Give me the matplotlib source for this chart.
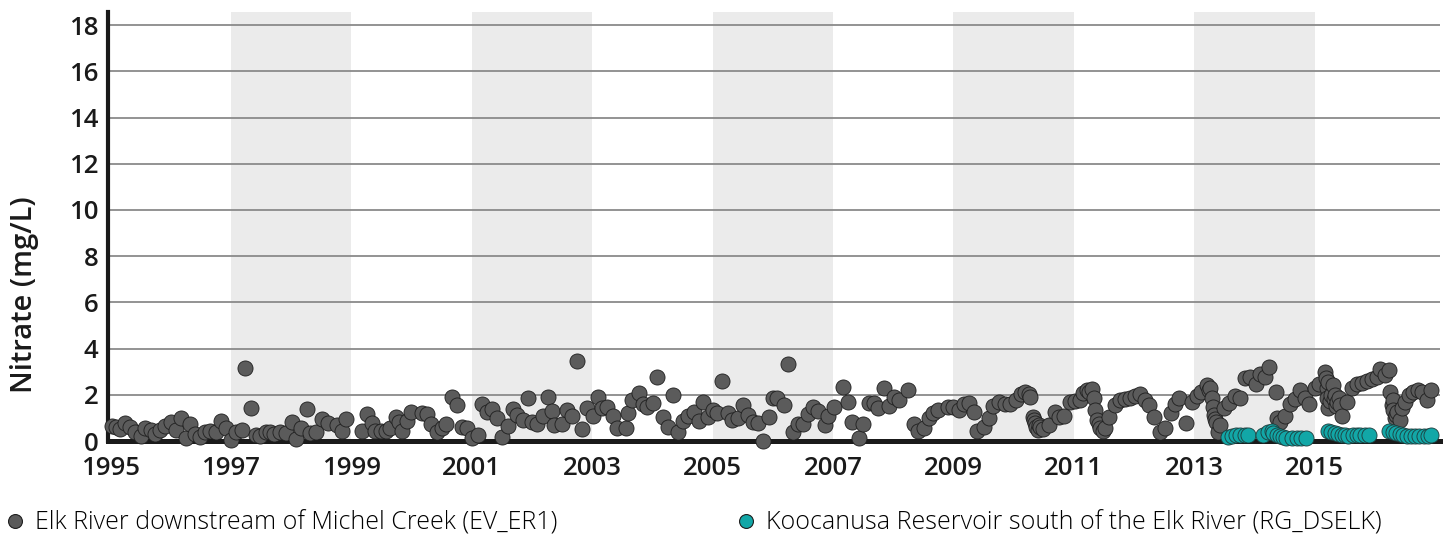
import matplotlib
matplotlib.use("Agg")
import matplotlib.pyplot as plt
from matplotlib.lines import Line2D

# Elk River downstream of Michel Creek (EV_ER1): sample date (decimal year), nitrate (mg/L)
ev_er1_year = [
    1995.02, 1995.09, 1995.16, 1995.24, 1995.32, 1995.41, 1995.50, 1995.57, 1995.67, 1995.74,
    1995.82, 1995.90, 1996.00, 1996.09, 1996.17, 1996.25, 1996.32, 1996.40, 1996.49, 1996.57,
    1996.65, 1996.75, 1996.83, 1996.92, 1997.01, 1997.08, 1997.18, 1997.24, 1997.34, 1997.42,
    1997.49, 1997.58, 1997.65, 1997.72, 1997.81, 1997.91, 1998.01, 1998.09, 1998.16, 1998.26,
    1998.32, 1998.42, 1998.52, 1998.62, 1998.76, 1998.84, 1998.91, 1999.17, 1999.26, 1999.34,
    1999.40, 1999.49, 1999.57, 1999.65, 1999.74, 1999.79, 1999.84, 1999.92, 2000.00, 2000.17,
    2000.26, 2000.33, 2000.43, 2000.50, 2000.58, 2000.68, 2000.76, 2000.84, 2000.93, 2001.00,
    2001.10, 2001.17, 2001.25, 2001.33, 2001.42, 2001.51, 2001.60, 2001.68, 2001.75, 2001.85,
    2001.93, 2002.00, 2002.09, 2002.19, 2002.26, 2002.33, 2002.37, 2002.50, 2002.59, 2002.67,
    2002.75, 2002.84, 2002.92, 2003.02, 2003.09, 2003.17, 2003.25, 2003.35, 2003.42, 2003.56,
    2003.59, 2003.67, 2003.78, 2003.85, 2003.92, 2004.01, 2004.08, 2004.17, 2004.26, 2004.34,
    2004.42, 2004.51, 2004.60, 2004.69, 2004.77, 2004.84, 2004.93, 2005.01, 2005.08, 2005.16,
    2005.26, 2005.33, 2005.43, 2005.51, 2005.59, 2005.67, 2005.76, 2005.84, 2005.94, 2006.00,
    2006.07, 2006.19, 2006.26, 2006.34, 2006.42, 2006.51, 2006.58, 2006.67, 2006.76, 2006.86,
    2006.92, 2007.01, 2007.17, 2007.25, 2007.32, 2007.43, 2007.50, 2007.60, 2007.69, 2007.75,
    2007.85, 2007.93, 2008.01, 2008.10, 2008.25, 2008.35, 2008.42, 2008.51, 2008.59, 2008.67,
    2008.75, 2008.91, 2009.00, 2009.09, 2009.18, 2009.26, 2009.35, 2009.40, 2009.51, 2009.60,
    2009.66, 2009.76, 2009.86, 2009.94, 2010.04, 2010.12, 2010.19, 2010.25, 2010.28, 2010.32,
    2010.34, 2010.36, 2010.38, 2010.40, 2010.42, 2010.44, 2010.49, 2010.59, 2010.68, 2010.76,
    2010.84, 2010.94, 2011.02, 2011.10, 2011.16, 2011.22, 2011.26, 2011.30, 2011.34, 2011.35,
    2011.39, 2011.42, 2011.44, 2011.49, 2011.52, 2011.59, 2011.68, 2011.77, 2011.85, 2011.93,
    2012.02, 2012.10, 2012.18, 2012.25, 2012.33, 2012.43, 2012.51, 2012.61, 2012.68, 2012.75,
    2012.86, 2012.96, 2013.04, 2013.12, 2013.21, 2013.25, 2013.27, 2013.29, 2013.31, 2013.33,
    2013.35, 2013.37, 2013.39, 2013.43, 2013.50, 2013.58, 2013.68, 2013.76, 2013.84, 2013.93,
    2014.03, 2014.10, 2014.18, 2014.25, 2014.36, 2014.38, 2014.43, 2014.51, 2014.59, 2014.67,
    2014.76, 2014.84, 2014.91, 2015.01, 2015.08, 2015.17, 2015.19, 2015.20, 2015.21, 2015.22,
    2015.23, 2015.25, 2015.27, 2015.30, 2015.32, 2015.34, 2015.35, 2015.37, 2015.40, 2015.42,
    2015.45, 2015.53, 2015.62, 2015.70, 2015.78, 2015.87, 2015.95, 2016.03, 2016.09, 2016.17,
    2016.24, 2016.25, 2016.28, 2016.30, 2016.31, 2016.33, 2016.35, 2016.37, 2016.42, 2016.45,
    2016.50, 2016.56, 2016.64, 2016.72, 2016.79, 2016.87, 2016.93,
]
ev_er1_nitrate = [
    0.66, 0.62, 0.52, 0.77, 0.62, 0.38, 0.23, 0.55, 0.48, 0.29,
    0.48, 0.66, 0.81, 0.48, 1.01, 0.12, 0.75, 0.29, 0.19, 0.38,
    0.43, 0.38, 0.87, 0.55, 0.04, 0.38, 0.48, 3.17, 1.44, 0.26,
    0.23, 0.38, 0.40, 0.29, 0.38, 0.33, 0.81, 0.09, 0.55, 1.37,
    0.33, 0.38, 0.95, 0.77, 0.69, 0.43, 0.95, 0.43, 1.15, 0.77,
    0.43, 0.43, 0.43, 0.58, 1.05, 0.81, 0.43, 0.87, 1.24, 1.20,
    1.15, 0.72, 0.38, 0.55, 0.72, 1.92, 1.56, 0.62, 0.55, 0.12,
    0.26, 1.59, 1.27, 1.39, 0.98, 0.19, 0.66, 1.39, 1.13, 0.91,
    1.85, 0.84, 0.72, 1.10, 1.92, 1.30, 0.69, 0.72, 1.34, 1.10,
    3.46, 0.52, 1.44, 1.10, 1.89, 1.44, 1.49, 1.10, 0.58, 0.58,
    1.20, 1.77, 2.06, 1.59, 1.49, 1.63, 2.76, 1.05, 0.62, 1.99,
    0.38, 0.87, 1.10, 1.27, 0.87, 1.70, 1.05, 1.34, 1.20, 2.60,
    1.20, 0.91, 1.01, 1.56, 1.13, 0.84, 0.77, 0.00, 1.05, 1.85,
    1.85, 1.56, 3.32, 0.38, 0.72, 0.72, 1.15, 1.49, 1.30, 0.69,
    1.10, 1.47, 2.32, 1.70, 0.81, 0.14, 0.72, 1.63, 1.63, 1.44,
    2.28, 1.53, 1.92, 1.77, 2.21, 0.72, 0.43, 0.58, 1.01, 1.20,
    1.34, 1.49, 1.49, 1.34, 1.59, 1.63, 1.24, 0.43, 0.62, 1.01,
    1.53, 1.70, 1.62, 1.59, 1.77, 2.02, 2.13, 2.02, 1.92, 1.05,
    0.90, 0.77, 0.62, 0.48, 0.70, 0.62, 0.52, 0.69, 1.27, 1.05,
    1.10, 1.70, 1.73, 1.77, 2.06, 2.21, 2.10, 2.25, 1.87, 1.34,
    0.91, 0.75, 0.58, 0.43, 0.55, 1.05, 1.56, 1.77, 1.82, 1.87,
    1.96, 2.02, 1.77, 1.56, 1.05, 0.38, 0.58, 1.20, 1.59, 1.85,
    0.77, 1.70, 1.96, 2.13, 2.42, 2.21, 2.30, 1.85, 1.49, 1.13,
    0.95, 0.84, 0.38, 0.69, 1.41, 1.63, 1.96, 1.87, 2.71, 2.78,
    2.45, 2.89, 2.78, 3.22, 2.13, 0.98, 0.84, 1.10, 1.59, 1.82,
    2.21, 1.87, 1.59, 2.31, 2.45, 3.00, 2.71, 2.28, 1.85, 2.55,
    1.41, 1.75, 2.00, 2.42, 1.80, 1.99, 1.50, 1.70, 1.85, 1.56,
    1.10, 1.70, 2.28, 2.45, 2.49, 2.60, 2.68, 2.78, 3.12, 2.86,
    3.07, 2.13, 1.55, 1.77, 1.34, 1.00, 1.13, 1.25, 0.91, 1.41,
    1.70, 1.99, 2.13, 2.21, 2.13, 1.77, 2.21,
]

# Koocanusa Reservoir south of the Elk River (RG_DSELK)
rg_dselk_year = [
    2013.56, 2013.63, 2013.69, 2013.76, 2013.84, 2013.89,
    2014.15, 2014.23, 2014.29, 2014.31, 2014.37, 2014.42, 2014.48, 2014.53, 2014.62, 2014.70,
    2014.78, 2014.86,
    2015.23, 2015.28, 2015.34, 2015.39, 2015.45, 2015.50, 2015.56, 2015.63, 2015.70, 2015.76,
    2015.84, 2015.91,
    2016.24, 2016.30, 2016.35, 2016.41, 2016.46, 2016.53, 2016.60, 2016.67, 2016.74, 2016.82,
    2016.89, 2016.94,
]
rg_dselk_nitrate = [
    0.19, 0.23, 0.24, 0.25, 0.26, 0.25,
    0.28, 0.38, 0.42, 0.35, 0.28, 0.22, 0.18, 0.15, 0.14, 0.14,
    0.15, 0.15,
    0.43, 0.38, 0.33, 0.29, 0.26, 0.26, 0.23, 0.26, 0.26, 0.26,
    0.26, 0.26,
    0.43, 0.38, 0.33, 0.29, 0.26, 0.23, 0.23, 0.23, 0.23, 0.23,
    0.23, 0.26,
]

x_ticks = [1995, 1997, 1999, 2001, 2003, 2005, 2007, 2009, 2011, 2013, 2015]
y_ticks = [0, 2, 4, 6, 8, 10, 12, 14, 16, 18]
shaded_periods = [(1997, 1999), (2001, 2003), (2005, 2007), (2009, 2011), (2013, 2015)]

label_er1 = "Elk River downstream of Michel Creek (EV_ER1)"
label_dselk = "Koocanusa Reservoir south of the Elk River (RG_DSELK)"

FONT = ["Open Sans", "DejaVu Sans"]
plt.rcParams["font.family"] = FONT

fig = plt.figure(figsize=(14.5, 5.39), dpi=100)
ax = fig.add_axes([0.0745, 0.1818, 0.9185, 0.7959])

for start, end in shaded_periods:
    ax.axvspan(start, end, color="#ebebeb", zorder=0, lw=0)

for yv in y_ticks[1:]:
    ax.axhline(yv, color="#8a8a8a", lw=1.3, zorder=1)

ax.scatter(ev_er1_year, ev_er1_nitrate, s=118, c="#5b5b5b", edgecolors="#1e1e1e",
           linewidths=0.6, zorder=3, label=label_er1, clip_on=False)
ax.scatter(rg_dselk_year, rg_dselk_nitrate, s=118, c="#12a7a7", edgecolors="#1e3a3a",
           linewidths=0.6, zorder=4, label=label_dselk, clip_on=False)

ax.set_xlim(1994.96, 2017.08)
ax.set_ylim(0, 18.57)
ax.set_xticks(x_ticks)
ax.set_yticks(y_ticks)
ax.tick_params(axis="both", length=0, labelsize=18.5, colors="#1a1a1a")
ax.tick_params(axis="x", pad=11)
ax.tick_params(axis="y", pad=7)
for lab in ax.get_xticklabels() + ax.get_yticklabels():
    lab.set_fontweight("semibold")

for side in ("top", "right"):
    ax.spines[side].set_visible(False)
ax.spines["left"].set_linewidth(3.0)
ax.spines["bottom"].set_linewidth(3.6)
ax.spines["left"].set_color("#1a1a1a")
ax.spines["bottom"].set_color("#1a1a1a")
ax.spines["left"].set_zorder(2)
ax.spines["bottom"].set_zorder(2)

ax.set_ylabel("Nitrate (mg/L)", fontsize=21, fontweight="semibold", color="#1a1a1a")
ax.yaxis.set_label_coords(-0.052, 0.34)

h1 = Line2D([], [], marker="o", ls="", markersize=10, markerfacecolor="#5b5b5b",
            markeredgecolor="#1e1e1e", markeredgewidth=0.8)
h2 = Line2D([], [], marker="o", ls="", markersize=10, markerfacecolor="#12a7a7",
            markeredgecolor="#1e1e1e", markeredgewidth=0.8)
leg_kw = dict(frameon=False, handletextpad=0.3, borderaxespad=0, borderpad=0,
              handlelength=1.0, prop={"family": FONT, "weight": "light", "size": 18})
fig.legend(handles=[h1], labels=[label_er1], loc="center left",
           bbox_to_anchor=(0.002, 0.03), **leg_kw)
fig.legend(handles=[h2], labels=[label_dselk], loc="center left",
           bbox_to_anchor=(0.506, 0.03), **leg_kw)

fig.savefig("out.png", dpi=100)
